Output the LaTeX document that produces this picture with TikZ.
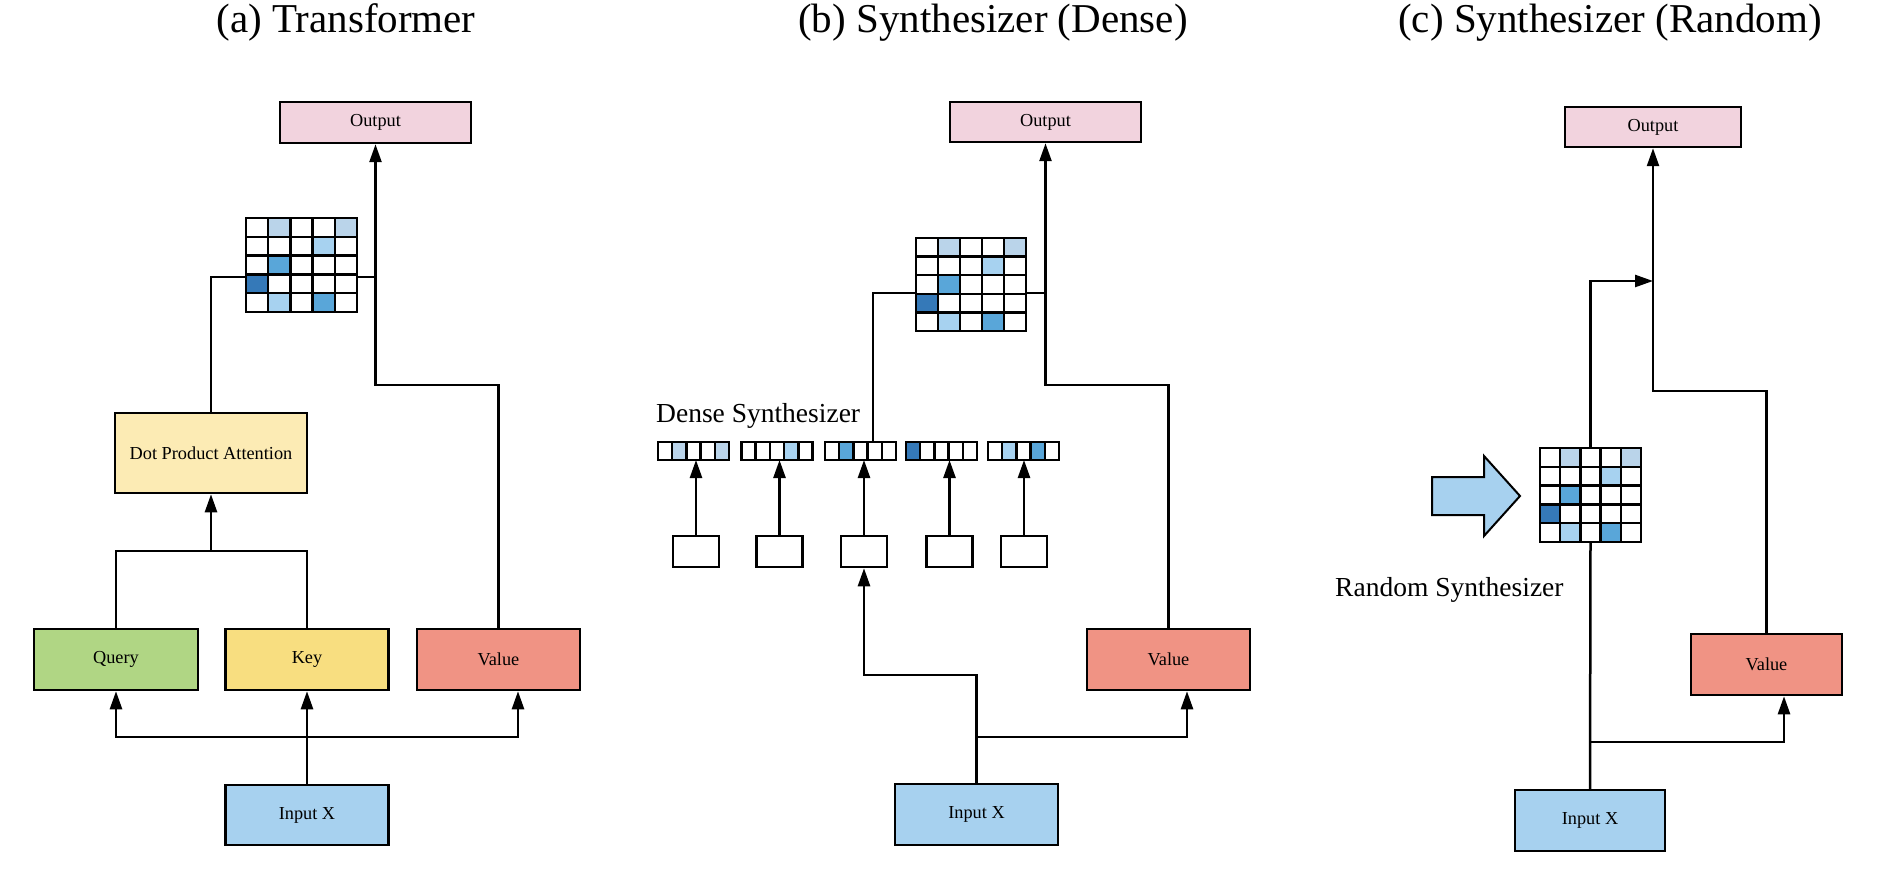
\documentclass[tikz,border=0pt]{standalone}
\usepackage{fontspec}
\setmainfont{Liberation Serif}
\usetikzlibrary{arrows.meta,calc}

% fills
\definecolor{outpink}{HTML}{F2D3DE}
\definecolor{dpayellow}{HTML}{FCEBB4}
\definecolor{qgreen}{HTML}{B0D684}
\definecolor{kyellow}{HTML}{F8DE80}
\definecolor{vsalmon}{HTML}{F09384}
\definecolor{inblue}{HTML}{A7D1EF}
% attention weight shades
\definecolor{wA}{HTML}{BAD4EA}
\definecolor{wB}{HTML}{A7D2F0}
\definecolor{wC}{HTML}{59A6D9}
\definecolor{wD}{HTML}{3579B8}

% 5x5 attention grid over a named node: #1 node, #2 cell width, #3 cell height
\newcommand\attngrid[3]{%
  \begin{scope}[shift={(#1.north west)}, x=#2, y=-#3]
    \foreach \r/\c/\col in {0/1/wA,0/4/wA,1/3/wB,2/1/wC,3/0/wD,4/1/wB,4/3/wC}
      \fill[\col] (\c,\r) rectangle ++(1,1);
    \foreach \i in {0,...,5} {
      \draw[line width=2.5pt, line cap=rect] (\i,0) -- (\i,5);
      \draw[line width=2.5pt, line cap=rect] (0,\i) -- (5,\i);
    }
  \end{scope}}

% 1x5 weight vector over a named node: #1 node, #2 list of col/colour
\newcommand\wvec[2]{%
  \begin{scope}[shift={(#1.north west)}, x=14.2pt, y=-18pt]
    \foreach \c/\col in {#2}
      \fill[\col] (\c,0) rectangle ++(1,1);
    \foreach \i in {0,...,5}
      \draw[line width=2.5pt, line cap=rect] (\i,0) -- (\i,1);
    \draw[line width=2.5pt, line cap=rect] (0,0) -- (5,0) (0,1) -- (5,1);
  \end{scope}}

\begin{document}
\begin{tikzpicture}[x=1pt, y=-1pt,
  box/.style={draw=black, line width=2.5pt, inner sep=0pt,
    font=\fontsize{18.3}{21}\selectfont},
  wgt/.style={fill=white, inner sep=0pt, outer sep=0pt},
  title/.style={anchor=base, inner sep=0pt, font=\fontsize{41}{48}\selectfont},
  lbl/.style={anchor=base west, inner sep=0pt, font=\fontsize{27.5}{32}\selectfont},
  wire/.style={draw=black, line width=2.5pt},
  arr/.style={wire, -{Triangle[length=18pt,width=12pt]}}]

\useasboundingbox (0,0) rectangle (1880,874);

% ---------- titles ----------
\node[title] (tA) at (346,33) {(a) Transformer};
\node[title] (tB) at (993,33) {(b) Synthesizer (Dense)};
\node[title] (tC) at (1610,33) {(c) Synthesizer (Random)};

% ---------- (a) Transformer ----------
\node[box, fill=outpink, minimum width=191pt, minimum height=41pt] (outA) at (375.5,122.5) {Output};
\node[wgt, minimum width=111pt, minimum height=94pt] (matA) at (301.5,265) {};
\attngrid{matA}{22.2pt}{18.8pt}
\node[box, fill=dpayellow, minimum width=192pt, minimum height=80pt] (dpa) at (211,453) {Dot Product Attention};
\node[box, fill=qgreen, minimum width=164pt, minimum height=61pt] (qA) at (116,659.5) {Query};
\node[box, fill=kyellow, minimum width=163pt, minimum height=61pt] (kA) at (307,659.5) {Key};
\node[box, fill=vsalmon, minimum width=163pt, minimum height=61pt] (vA) at (498.5,659.5) {Value};
\node[box, fill=inblue, minimum width=163pt, minimum height=60pt] (inA) at (307,815) {Input X};

\draw[arr] (vA.north) -- (vA.north |- 0,385) -| (outA.south);
\draw[wire] (matA.east |- 0,277) -- (outA.south |- 0,277);
\draw[wire] (dpa.north) |- (matA.west |- 0,277);
\draw[wire] (qA.north) |- (kA.north |- 0,551) -- (kA.north);
\draw[arr] (dpa.south |- 0,551) -- (dpa.south);
\draw[wire] (inA.north) -- (inA.north |- 0,737);
\draw[arr] (inA.north |- 0,737) -| (qA.south);
\draw[arr] (inA.north |- 0,737) -- (kA.south);
\draw[arr] (inA.north |- 0,737) -| ([xshift=19.5pt]vA.south);

% ---------- (b) Dense Synthesizer ----------
\node[box, fill=outpink, minimum width=191pt, minimum height=40pt] (outB) at (1045.5,122) {Output};
\node[wgt, minimum width=110pt, minimum height=93pt] (matB) at (971,284.5) {};
\attngrid{matB}{22pt}{18.6pt}
\node[lbl] (dsl) at (656,423) {Dense Synthesizer};

\foreach \n/\x in {1/693.5,2/777,3/860.5,4/941.5,5/1023.5}
  \node[wgt, minimum width=71pt, minimum height=18pt] (v\n) at (\x,451) {};
\wvec{v1}{1/wA,4/wA}
\wvec{v2}{3/wB}
\wvec{v3}{1/wC}
\wvec{v4}{0/wD}
\wvec{v5}{1/wB,3/wC}

\foreach \n/\x in {1/696,2/779.5,3/864,4/949.5,5/1024}
  \node[box, fill=white, minimum width=46pt, minimum height=31pt] (s\n) at (\x,551.5) {};
\foreach \n in {1,...,5}
  \draw[arr] (s\n.north) -- (s\n.north |- v\n.south);

\node[box, fill=vsalmon, minimum width=163pt, minimum height=61pt] (vB) at (1168.5,659.5) {Value};
\node[box, fill=inblue, minimum width=163pt, minimum height=61pt] (inB) at (976.5,814.5) {Input X};

\draw[arr] (vB.north) -- (vB.north |- 0,385) -| (outB.south);
\draw[wire] (matB.east |- 0,293) -- (outB.south |- 0,293);
\draw[wire] ([xshift=12.5pt]v3.north) |- (matB.west |- 0,293);
\draw[wire] (inB.north) -- (inB.north |- 0,737);
\draw[arr] (inB.north |- 0,737) -| ([xshift=18.5pt]vB.south);
\draw[arr] (inB.north |- 0,737) -- (inB.north |- 0,675) -| (s3.south);

% ---------- (c) Random Synthesizer ----------
\node[box, fill=outpink, minimum width=176pt, minimum height=40pt] (outC) at (1653,127) {Output};
\node[wgt, minimum width=101pt, minimum height=94pt] (matC) at (1590.5,495) {};
\attngrid{matC}{20.2pt}{18.8pt}
\node[lbl] (rsl) at (1335,596) {Random Synthesizer};
\draw[line width=2pt, fill=inblue, line join=miter]
  (1432,477) -- (1484,477) -- (1484,456) -- (1520,496) -- (1484,536)
  -- (1484,515) -- (1432,515) -- cycle;
\node[box, fill=vsalmon, minimum width=151pt, minimum height=61pt] (vC) at (1766.5,664.5) {Value};
\node[box, fill=inblue, minimum width=150pt, minimum height=61pt] (inC) at (1590,820.5) {Input X};

\draw[arr] (vC.north) -- (vC.north |- 0,391) -| (outC.south);
\draw[arr] (matC.north) |- (outC.south |- 0,281);
\draw[wire] (inC.north) -- (matC.south);
\draw[arr] (inC.north |- 0,742) -| ([xshift=17.5pt]vC.south);

\end{tikzpicture}
\end{document}
